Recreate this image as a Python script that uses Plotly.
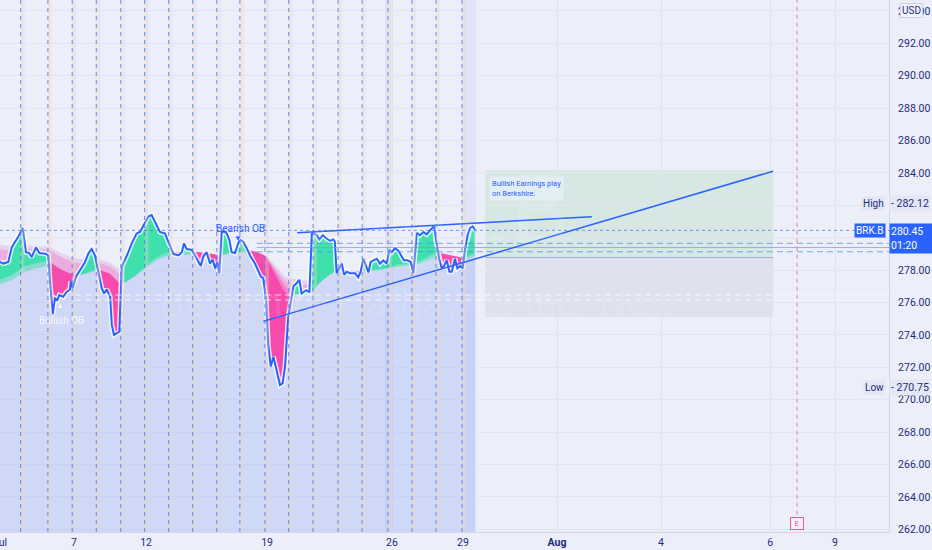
import numpy as np
import plotly.graph_objects as go

# ---------------- data (x in trading days from Jul 1, y in USD) ----------------
day = [-0.04, 0.09, 0.30, 0.44, 0.58, 0.71, 0.89, 0.95, 1.03, 1.16, 1.26, 1.44, 1.58, 1.85, 1.95,
       2.02, 2.13, 2.22, 2.32, 2.40, 2.56, 2.70, 2.84, 2.87, 2.95, 3.09, 3.25, 3.46, 3.59, 3.73,
       3.87, 3.96, 4.05, 4.14, 4.24, 4.35, 4.49, 4.56, 4.65, 4.79, 4.87, 4.97, 5.10, 5.24, 5.38,
       5.58, 5.72, 5.88, 6.06, 6.20, 6.30, 6.41, 6.54, 6.75, 6.95, 7.09, 7.30, 7.44, 7.53, 7.64,
       7.85, 7.98, 8.12, 8.22, 8.33, 8.46, 8.60, 8.71, 8.81, 8.90, 8.98, 9.08, 9.18, 9.29, 9.40,
       9.49, 9.63, 9.77, 9.86, 9.97, 10.11, 10.28, 10.45, 10.59, 10.69, 10.79, 10.91, 11.00, 11.10,
       11.21, 11.32, 11.48, 11.59, 11.69, 11.82, 11.96, 12.03, 12.17, 12.28, 12.37, 12.55, 12.69,
       12.79, 12.85, 12.99, 13.10, 13.24, 13.40, 13.54, 13.67, 13.74, 13.81, 13.92, 14.02, 14.12,
       14.23, 14.36, 14.57, 14.70, 14.80, 14.91, 15.02, 15.12, 15.21, 15.35, 15.46, 15.60, 15.73,
       15.87, 15.98, 16.08, 16.21, 16.35, 16.45, 16.58, 16.72, 16.86, 16.97, 17.11, 17.24, 17.38,
       17.52, 17.65, 17.82, 17.93, 18.04, 18.14, 18.23, 18.34, 18.45, 18.55, 18.68, 18.78, 18.89,
       19.00, 19.09, 19.20, 19.30, 19.41, 19.51]
price = [278.5, 278.4, 278.5, 279.4, 279.75, 280.05, 280.6, 280.05, 279.1, 279.05, 278.8, 279.4, 279.05, 279.0, 278.9,
         277.2, 275.3, 276.25, 276.15, 276.45, 276.35, 276.65, 276.8, 277.3, 276.9, 277.6, 278.0, 278.5, 279.0, 279.3,
         278.9, 278.2, 277.4, 276.9, 276.55, 276.8, 276.35, 274.6, 274.0, 274.1, 274.2, 278.2, 278.6, 279.1, 279.65,
         280.25, 280.35, 280.8, 281.3, 281.4, 281.1, 280.7, 280.35, 280.25, 279.45, 279.0, 278.9, 279.1, 279.65, 279.3,
         279.25, 278.9, 278.6, 278.25, 278.85, 279.1, 278.4, 278.65, 278.1, 278.5, 277.8, 280.35, 280.4, 280.25, 279.85,
         279.1, 279.05, 279.7, 279.85, 279.75, 279.35, 278.8, 278.4, 277.9, 277.6, 277.5, 276.15, 273.3, 272.05,
         272.65, 271.95, 270.9, 271.0, 272.05, 275.1, 276.45, 277.0, 277.2, 277.4, 276.55, 276.75, 276.65,
         280.25, 280.3, 280.15, 279.9, 280.15, 279.95, 279.8, 279.9, 279.75, 277.8, 278.15, 278.4, 277.7,
         277.9, 277.8, 277.8, 277.55, 277.9, 278.7, 278.25, 277.85, 278.5, 278.6, 278.7, 278.4, 278.6,
         278.4, 279.25, 279.1, 279.35, 279.2, 278.9, 278.6, 278.6, 278.5, 277.8, 280.3, 280.15, 280.35,
         280.2, 280.45, 280.7, 279.55, 278.6, 278.1, 278.25, 278.6, 277.9, 277.9, 278.7, 278.1, 278.25,
         278.1, 279.25, 280.15, 280.6, 280.7, 280.45]

session_breaks = [0.81, 1.93, 2.93, 3.92, 4.93, 5.91, 6.90, 7.89, 8.88, 9.83, 10.86, 11.84,
                  12.84, 13.87, 14.86, 15.92, 16.91, 17.90, 18.97]
tick_days = [0.0, 3.0, 5.97, 10.95, 16.09, 19.01, 22.88, 27.16, 31.65, 34.32]
tick_text = ["Jul", "7", "12", "19", "26", "29", "<b>Aug</b>", "4", "6", "9"]
price_ticks = list(range(262, 296, 2))

last_price = 280.45
session_high = 282.12
session_low = 270.75
upper_trend = ([12.19, 24.31], [280.3, 281.29])
lower_trend = ([10.79, 31.77], [274.83, 284.1])
trade_box = dict(x0=19.92, x1=31.77, target=284.17, entry=278.77, stop=275.1)
ob_levels = [279.65, 279.13]
ob_mid = 279.39
bull_ob_levels = [276.46, 276.15]
earnings_day = 32.76
ema_taus = [2.0, 2.5, 3.1, 3.8]
ema_seed = [277.4, 277.1, 279.3, 279.6]

# ---------------- figure ----------------
BG = "rgb(236,238,249)"
BLUE = "#2962FF"
NAVY = "#1f2d78"
X0, X1 = -0.041, 36.54
Y0, Y1 = 261.83, 294.67

fig = go.Figure()

d = np.array(day)
p = np.array(price)
step = 0.04
grid = np.arange(d[0], d[-1] + 1e-9, step)
pg = np.interp(grid, d, p)


def ema(series, tau, seed):
    a = 1 - np.exp(-step / tau)
    out = np.empty_like(series)
    v = seed
    for i, s in enumerate(series):
        v = v + a * (s - v)
        out[i] = v
    return out


emas = [ema(pg, t, s) for t, s in zip(ema_taus, ema_seed)]


def band(x, upper, lower):
    diff = upper - lower
    polys = []
    xs, u, l = [x[0]], [upper[0]], [lower[0]]
    sgn = diff[0] >= 0
    for i in range(1, len(x)):
        s = diff[i] >= 0
        if s != sgn:
            t = diff[i - 1] / (diff[i - 1] - diff[i])
            xc = x[i - 1] + t * (x[i] - x[i - 1])
            yc = upper[i - 1] + t * (upper[i] - upper[i - 1])
            xs.append(xc); u.append(yc); l.append(yc)
            polys.append((xs, u, l, sgn))
            xs, u, l = [xc], [yc], [yc]
            sgn = s
        xs.append(x[i]); u.append(upper[i]); l.append(lower[i])
    polys.append((xs, u, l, sgn))
    out = {True: ([], []), False: ([], [])}
    for xs, u, l, s in polys:
        px, py = out[s]
        px += list(xs) + list(xs[::-1]) + [None]
        py += list(u) + list(l[::-1]) + [None]
    return out


# area under price
fig.add_trace(go.Scatter(x=day, y=price, mode="lines", line=dict(width=0),
                         fill="tozeroy", fillcolor="rgba(165,182,242,0.40)", hoverinfo="skip"))

# ribbon: price vs each moving average, slowest first
layer_cols = [
    ("rgba(150,228,200,0.35)", "rgba(225,165,225,0.40)"),
    ("rgba(110,225,190,0.40)", "rgba(235,130,205,0.45)"),
    ("rgba(80,222,178,0.55)", "rgba(242,100,190,0.60)"),
    ("rgba(58,224,170,0.92)", "rgba(246,72,170,0.95)"),
]
for k in (3, 2, 1, 0):
    gcol, pcol = layer_cols[3 - k]
    res = band(grid, pg, emas[k])
    for sgn, col in ((True, gcol), (False, pcol)):
        xs, ys = res[sgn]
        if xs:
            fig.add_trace(go.Scatter(x=xs, y=ys, mode="lines", line=dict(width=0),
                                     fill="toself", fillcolor=col, hoverinfo="skip"))

# price line with soft white halo
fig.add_trace(go.Scatter(x=day, y=price, mode="lines",
                         line=dict(color="rgba(255,255,255,0.8)", width=5), hoverinfo="skip"))
fig.add_trace(go.Scatter(x=day, y=price, mode="lines",
                         line=dict(color=BLUE, width=2), hoverinfo="skip"))

shapes = []
for sb in session_breaks:
    shapes.append(dict(type="rect", xref="x", yref="paper", x0=sb, x1=sb + 0.16, y0=0, y1=1,
                       fillcolor="rgba(240,215,190,0.35)", line=dict(width=0), layer="above"))
    shapes.append(dict(type="line", xref="x", yref="paper", x0=sb, x1=sb, y0=0, y1=1,
                       line=dict(color="rgba(70,125,245,0.85)", width=1, dash="4px,4px")))
for a, b in ((15.8, 16.05), (18.97, 19.55)):
    shapes.append(dict(type="rect", xref="x", yref="paper", x0=a, x1=b, y0=0, y1=1,
                       fillcolor="rgba(120,150,255,0.10)", line=dict(width=0), layer="below"))
shapes.append(dict(type="rect", xref="x", yref="y", x0=trade_box["x0"], x1=trade_box["x1"],
                   y0=trade_box["entry"], y1=trade_box["target"],
                   fillcolor="rgba(170,220,185,0.32)", line=dict(width=0), layer="below"))
shapes.append(dict(type="rect", xref="x", yref="y", x0=trade_box["x0"], x1=trade_box["x1"],
                   y0=trade_box["stop"], y1=trade_box["entry"],
                   fillcolor="rgba(195,196,212,0.30)", line=dict(width=0), layer="below"))
shapes.append(dict(type="line", xref="x", yref="y", x0=trade_box["x0"], x1=trade_box["x1"],
                   y0=trade_box["entry"], y1=trade_box["entry"],
                   line=dict(color="rgba(120,140,200,0.6)", width=1)))
shapes.append(dict(type="line", xref="paper", yref="y", x0=0, x1=1, y0=last_price, y1=last_price,
                   line=dict(color="rgba(60,110,240,0.7)", width=1, dash="dot")))
for lv in ob_levels:
    shapes.append(dict(type="line", xref="x", yref="y", x0=10.53, x1=X1, y0=lv, y1=lv,
                       line=dict(color="rgba(80,140,240,0.75)", width=1, dash="6px,4px")))
shapes.append(dict(type="line", xref="x", yref="y", x0=10.53, x1=X1, y0=ob_mid, y1=ob_mid,
                   line=dict(color="rgba(110,155,240,0.7)", width=1)))
for lv in bull_ob_levels:
    shapes.append(dict(type="line", xref="x", yref="y", x0=3.05, x1=X1, y0=lv, y1=lv,
                       line=dict(color="rgba(255,255,255,0.75)", width=1, dash="6px,4px")))
for xs, ys in (upper_trend, lower_trend):
    shapes.append(dict(type="line", xref="x", yref="y", x0=xs[0], x1=xs[1], y0=ys[0], y1=ys[1],
                       line=dict(color=BLUE, width=1.5)))
shapes.append(dict(type="line", xref="x", yref="y", x0=earnings_day, x1=earnings_day, y0=262.9, y1=Y1,
                   line=dict(color="rgba(225,90,160,0.8)", width=1, dash="4px,4px")))
fig.update_layout(shapes=shapes)

ann = []
ann.append(dict(xref="x", yref="y", x=18.0, y=281.7, text="BRK.B", showarrow=False,
                font=dict(size=96, color="rgba(255,255,255,0.09)", family="Roboto")))
ann.append(dict(xref="x", yref="y", x=17.2, y=275.96, text="Berkshire Hathaway Inc. New", showarrow=False,
                font=dict(size=40, color="rgba(255,255,255,0.09)", family="Roboto")))
ann.append(dict(xref="x", yref="y", x=9.84, y=280.59, text="Bearish OB", showarrow=False,
                font=dict(size=10, color=BLUE, family="Roboto")))
ann.append(dict(xref="x", yref="y", x=9.75, y=280.04, text="▼", showarrow=False,
                font=dict(size=8, color=BLUE)))
ann.append(dict(xref="x", yref="y", x=2.47, y=274.9, text="Bullish OB", showarrow=False,
                font=dict(size=10, color="rgba(255,255,255,0.8)", family="Roboto")))
ann.append(dict(xref="x", yref="y", x=2.43, y=275.9, text="▲", showarrow=False,
                font=dict(size=8, color="rgba(255,255,255,0.8)")))
ann.append(dict(xref="x", yref="y", x=20.1, y=283.8, xanchor="left", yanchor="top", align="left",
                text="Bullish Earnings play<br>on Berkshire.", showarrow=False,
                bgcolor="rgba(228,238,242,0.95)", borderpad=2,
                font=dict(size=7.5, color=BLUE, family="Roboto")))
ann.append(dict(xref="x", yref="y", x=earnings_day, y=262.38, text="E", showarrow=False,
                bgcolor="rgba(250,240,248,1)", bordercolor="rgb(235,90,165)", borderwidth=1, borderpad=1,
                width=10, font=dict(size=8, color="rgb(235,90,165)", family="Roboto")))
ann.append(dict(xref="paper", yref="paper", x=0, y=0, xanchor="center", yanchor="top", yshift=-2,
                text=tick_text[0], showarrow=False, font=dict(size=10.5, color=NAVY, family="Roboto")))
ann.append(dict(xref="paper", yref="paper", x=1, y=1, xanchor="left", yanchor="top", xshift=11, yshift=-3,
                text="USD", showarrow=False, bgcolor="rgba(240,242,250,1)", bordercolor="rgb(205,210,228)",
                borderwidth=1, borderpad=1, font=dict(size=10, color=NAVY, family="Roboto")))
for val, lab in ((session_high, "High"), (session_low, "Low")):
    ann.append(dict(xref="paper", yref="y", x=1, y=val, xanchor="right", xshift=-3, text=lab,
                    showarrow=False, bgcolor="rgb(228,231,245)", borderpad=1,
                    font=dict(size=10, color=NAVY, family="Roboto")))
    ann.append(dict(xref="paper", yref="y", x=1, y=val, xanchor="left", xshift=0, text=f"- {val:.2f}",
                    showarrow=False, bgcolor="rgb(228,231,245)", borderpad=1,
                    font=dict(size=10.5, color=NAVY, family="Roboto")))
ann.append(dict(xref="paper", yref="y", x=1, y=last_price, xanchor="right", xshift=-3, text="BRK.B",
                showarrow=False, bgcolor=BLUE, borderpad=1,
                font=dict(size=10, color="white", family="Roboto")))
ann.append(dict(xref="paper", yref="y", x=1, y=last_price, xanchor="left", yanchor="top", yshift=7,
                text=f"{last_price:.2f}<br>01:20", showarrow=False, bgcolor=BLUE, width=40, align="left",
                borderpad=1, font=dict(size=10.5, color="white", family="Roboto")))
fig.update_layout(annotations=ann)

fig.update_xaxes(range=[X0, X1], tickvals=tick_days, ticktext=[""] + tick_text[1:], showgrid=True,
                 gridcolor="rgba(220,224,238,0.8)", zeroline=False, showline=True,
                 linecolor="rgb(210,214,230)", ticks="", tickfont=dict(size=10.5, color=NAVY, family="Roboto"))
fig.update_yaxes(range=[Y0, Y1], side="right", tickvals=price_ticks,
                 ticktext=["" if v in (280, 282) else f"{v:.2f}" for v in price_ticks],
                 showgrid=True, gridcolor="rgb(226,229,242)", zeroline=False, showline=True,
                 linecolor="rgb(210,214,230)", ticks="outside", ticklen=6, tickcolor="rgba(0,0,0,0)",
                 tickfont=dict(size=10.5, color=NAVY, family="Roboto"))
fig.update_layout(width=932, height=550, margin=dict(l=0, r=43, t=0, b=18, autoexpand=False),
                  paper_bgcolor=BG, plot_bgcolor=BG, showlegend=False)

fig.write_html("out.html", config={"displayModeBar": False},
               post_script="document.body.style.margin='0px';document.body.style.overflow='hidden';")
